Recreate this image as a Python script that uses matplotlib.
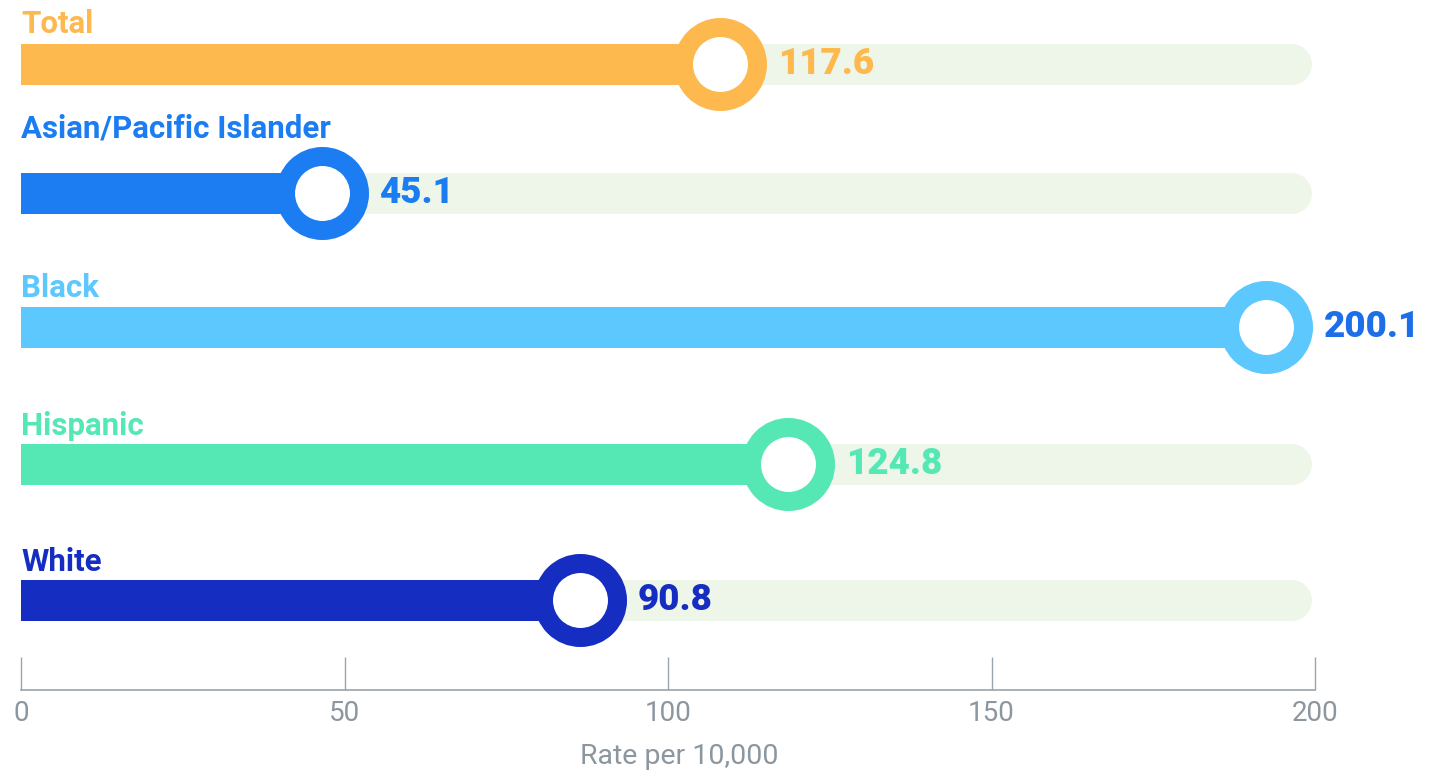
import matplotlib
matplotlib.use("Agg")
import matplotlib.pyplot as plt

# ---- data ----
categories = ["Total", "Asian/Pacific Islander", "Black", "Hispanic", "White"]
values = [117.6, 45.1, 200.1, 124.8, 90.8]          # printed rates
bar_ends = [108.0, 46.5, 192.4, 118.5, 86.4]        # where each bar/marker ends on the axis
bar_colors = ["#FDB94E", "#1C7CF2", "#5CC8FD", "#55E8B4", "#152EC1"]
value_colors = ["#FDB94E", "#1C7CF2", "#1C6FE8", "#55E8B4", "#152EC1"]
xticks = [0, 50, 100, 150, 200]
xlabel = "Rate per 10,000"

# ---- layout / style ----
track_color = "#EDF6E8"
axis_gray = "#9AA4AD"
label_gray = "#8C969E"
row_centers_px = [64, 193, 327, 464, 600]      # vertical layout of rows (pixels from top)
label_gap_px = [31, 56, 30, 29, 29]            # label baseline above row centre

W, H, DPI = 1432, 775, 100
fig = plt.figure(figsize=(W / DPI, H / DPI), dpi=DPI)
fig.patch.set_facecolor("white")

ax_left, ax_right = 21, 1315
ax_bottom_px = 690
ax = fig.add_axes([ax_left / W, (H - ax_bottom_px) / H, (ax_right - ax_left) / W, ax_bottom_px / H])
ax.set_xlim(0, 200)
ax.set_ylim(ax_bottom_px, 0)

px2pt = 72.0 / DPI
bar_h = 41.0
track_lw = bar_h * px2pt
x_per_px = 200.0 / (ax_right - ax_left)
cap = (bar_h / 2) * x_per_px
track_end = 199.5

for i, (cat, v, e, c, vc) in enumerate(zip(categories, values, bar_ends, bar_colors, value_colors)):
    y = row_centers_px[i]
    # background track with rounded right end
    ax.barh(y, track_end - 2 * cap, left=0, height=bar_h, color=track_color, zorder=1, linewidth=0)
    ax.plot([track_end - 3 * cap, track_end - cap], [y, y], color=track_color, lw=track_lw,
            solid_capstyle="round", zorder=1)
    # colored bar
    ax.barh(y, e, left=0, height=bar_h, color=c, zorder=2, linewidth=0)
    # ring marker
    ax.plot([e], [y], marker="o", markersize=74 * px2pt, markerfacecolor="white",
            markeredgecolor=c, markeredgewidth=19 * px2pt, zorder=3)
    # value label
    ax.annotate(f"{v:.1f}", xy=(e, y), xytext=(58 * px2pt, 0), textcoords="offset points",
                va="center", ha="left", color=vc, fontsize=26.5, fontfamily="Roboto",
                fontweight="black", zorder=4, annotation_clip=False)
    # category label
    ax.annotate(cat, xy=(0, y), xytext=(0, label_gap_px[i] * px2pt), textcoords="offset points",
                va="baseline", ha="left", color=c, fontsize=22.5, fontfamily="Roboto",
                fontweight="bold", zorder=4, annotation_clip=False)

for s in ["top", "right", "left"]:
    ax.spines[s].set_visible(False)
ax.spines["bottom"].set_color(axis_gray)
ax.spines["bottom"].set_linewidth(1.2)
ax.set_yticks([])
ax.set_xticks(xticks)
ax.set_xticklabels([str(t) for t in xticks])
ax.tick_params(axis="x", direction="in", length=33 * px2pt, width=1, color=axis_gray,
               labelcolor=label_gray, labelsize=20, pad=7)
for lab in ax.get_xticklabels():
    lab.set_fontfamily("Roboto")
ax.set_xlabel(xlabel, color=label_gray, fontsize=20.5, fontfamily="Roboto")
ax.xaxis.set_label_coords((679 - ax_left) / (ax_right - ax_left), -(757 - ax_bottom_px) / ax_bottom_px)
ax.xaxis.label.set_va("center")
ax.set_facecolor("none")

fig.savefig("out.png", dpi=DPI, facecolor="white")
